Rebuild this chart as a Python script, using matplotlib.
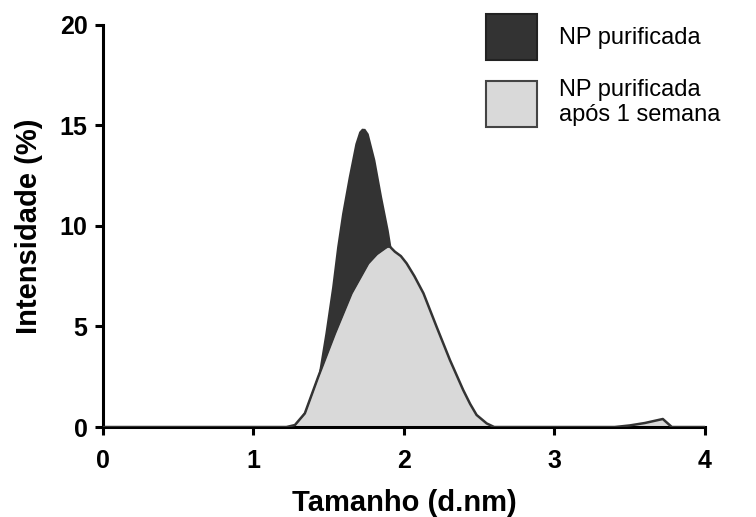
import matplotlib
matplotlib.use('Agg')
import matplotlib.pyplot as plt
from matplotlib.patches import Patch

plt.rcParams['font.family'] = ['Liberation Sans', 'DejaVu Sans']

# Size distribution
x_dark = [0.0, 1.22, 1.276, 1.34, 1.431, 1.475, 1.52, 1.553, 1.586, 1.63, 1.674, 1.70, 1.719,
          1.74, 1.763, 1.807, 1.852, 1.896, 1.914, 1.96, 2.02, 2.08, 2.15, 4.0]
y_dark = [0.0, 0.0, 0.1, 0.8, 2.67, 4.68, 6.98, 8.97, 10.63, 12.45, 14.1, 14.7, 14.86,
          14.85, 14.6, 13.3, 11.46, 9.8, 8.97, 6.5, 4.0, 1.8, 0.0, 0.0]

x_week = [0.0, 1.22, 1.276, 1.342, 1.431, 1.542, 1.652, 1.763, 1.82, 1.874, 1.89, 1.907,
          1.94, 1.98, 2.018, 2.07, 2.13, 2.217, 2.306, 2.394, 2.44, 2.483, 2.55, 2.60,
          3.40, 3.50, 3.60, 3.72, 3.78, 4.0]
y_week = [0.0, 0.0, 0.1, 0.68, 2.5, 4.66, 6.65, 8.14, 8.6, 8.89, 8.97, 8.97,
          8.72, 8.5, 8.14, 7.5, 6.65, 4.99, 3.33, 1.84, 1.15, 0.6, 0.18, 0.0,
          0.0, 0.08, 0.2, 0.4, 0.0, 0.0]

labels = ['NP purificada', 'NP purificada\napós 1 semana']
dark_color = '#333333'
light_color = '#d9d9d9'
edge_color = '#333333'

fig = plt.figure(figsize=(7.56, 5.17), dpi=100)
ax = fig.add_axes([0.136, 0.174, 0.7965, 0.778])

ax.fill_between(x_dark, y_dark, 0, color=dark_color, lw=0, zorder=1)
ax.fill_between(x_week, y_week, 0, color=light_color, lw=0, zorder=2)
ax.plot(x_week, y_week, color=edge_color, lw=1.8, zorder=3)

ax.set_xlim(0, 4)
ax.set_ylim(0, 20)
ax.set_xticks([0, 1, 2, 3, 4])
ax.set_yticks([0, 5, 10, 15, 20])

for side in ['top', 'right']:
    ax.spines[side].set_visible(False)
for side in ['left', 'bottom']:
    ax.spines[side].set_linewidth(2.2)
ax.tick_params(width=2.2, length=6, labelsize=18)
ax.tick_params(axis='y', pad=5)
ax.tick_params(axis='x', pad=10)
for lab in ax.get_xticklabels() + ax.get_yticklabels():
    lab.set_fontweight('bold')

ax.set_xlabel('Tamanho (d.nm)', fontsize=21, fontweight='bold', labelpad=11)
ax.set_ylabel('Intensidade (%)', fontsize=21, fontweight='bold', labelpad=12)

handles = [Patch(facecolor=dark_color, edgecolor='#222222', lw=1.5),
           Patch(facecolor=light_color, edgecolor='#444444', lw=1.5)]
fig.legend(handles, labels, loc='upper left', bbox_to_anchor=(0.636, 0.982),
           frameon=False, fontsize=17, handlelength=2.2, handleheight=2.62,
           handletextpad=0.93, labelspacing=0.8, borderaxespad=0, borderpad=0.2)

fig.savefig('out.png', dpi=100)
